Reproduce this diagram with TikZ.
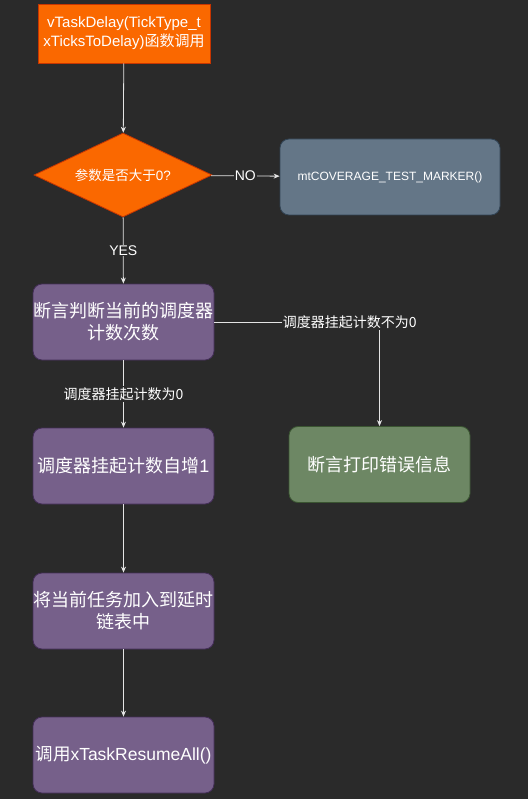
\documentclass[tikz,border=0pt]{standalone}
\usepackage{fontspec}
\setmainfont{Liberation Sans}
\newfontfamily\cjk{Noto Sans CJK SC}
\usepackage{xcolor}
\usetikzlibrary{shapes.geometric, arrows.meta, positioning}

\definecolor{bgdark}{HTML}{2A2A2A}
\definecolor{linegray}{HTML}{E4E4E4}
\definecolor{orangefill}{HTML}{FA6800}
\definecolor{orangeline}{HTML}{C73500}
\definecolor{slatefill}{HTML}{647687}
\definecolor{slateline}{HTML}{314354}
\definecolor{purplefill}{HTML}{76608A}
\definecolor{purpleline}{HTML}{432D57}
\definecolor{greenfill}{HTML}{6D8764}
\definecolor{greenline}{HTML}{3A5431}

\begin{document}
\begin{tikzpicture}[x=1pt, y=-1pt,
    flowbox/.style={rectangle, rounded corners=9pt, minimum width=181pt, minimum height=76pt, inner sep=0pt, align=center, text=white, font=\fontsize{18}{22}\selectfont, line width=0.8pt},
    purplebox/.style={flowbox, fill=purplefill, draw=purpleline},
    flowline/.style={linegray, line width=0.8pt, -{Stealth[length=6pt, width=5pt]}},
    edgelabel/.style={fill=bgdark, text=white, inner sep=1pt, font=\fontsize{14}{16}\selectfont}]

    % Background
    \fill[bgdark] (0,0) rectangle (528,799);
    \useasboundingbox (0,0) rectangle (528,799);

    % Start
    \node[rectangle, fill=orangefill, draw=orangeline, line width=0.8pt, minimum width=172pt, minimum height=59pt, inner sep=0pt, align=center, text=white, font=\fontsize{15}{19}\selectfont] (start) at (124,33.5) {vTaskDelay(TickType\_t\\xTicksToDelay){\cjk 函数调用}};

    % Decision
    \node[diamond, fill=orangefill, draw=orangeline, line width=0.8pt, aspect=2.12, minimum width=178pt, minimum height=84pt, inner sep=0pt, text=white, font=\fontsize{13.5}{16}\selectfont] (check) at (123,175) {{\cjk 参数是否大于}0?};

    \node[flowbox, fill=slatefill, draw=slateline, minimum width=220pt, font=\fontsize{12}{14}\selectfont] (marker) at (390,177) {mtCOVERAGE\_TEST\_MARKER()};

    % Scheduler checks
    \node[purplebox] (assertcnt) at (123.5,322) {\cjk 断言判断当前的调度器\\\cjk 计数次数};
    \node[purplebox] (incr) at (123.5,466) {{\cjk 调度器挂起计数自增}1};
    \node[purplebox] (addlist) at (123.5,611) {\cjk 将当前任务加入到延时\\\cjk 链表中};
    \node[purplebox, font=\fontsize{17.5}{21}\selectfont] (resume) at (123.5,755) {{\cjk 调用}xTaskResumeAll()};

    \node[flowbox, fill=greenfill, draw=greenline] (errmsg) at (379.5,464.5) {\cjk 断言打印错误信息};

    % Connectors
    \draw[flowline] (start) -- (check);
    \draw[flowline] (check) -- node[edgelabel] {NO} (marker);
    \draw[flowline] (check) -- node[edgelabel] {YES} (assertcnt);
    \draw[flowline] (assertcnt) -- node[edgelabel] {\cjk 调度器挂起计数为0} (incr);
    \draw[flowline] (assertcnt.east) -| node[edgelabel, pos=0.41] {\cjk 调度器挂起计数不为0} (errmsg.north);
    \draw[flowline] (incr) -- (addlist);
    \draw[flowline] (addlist) -- (resume);

\end{tikzpicture}
\end{document}
